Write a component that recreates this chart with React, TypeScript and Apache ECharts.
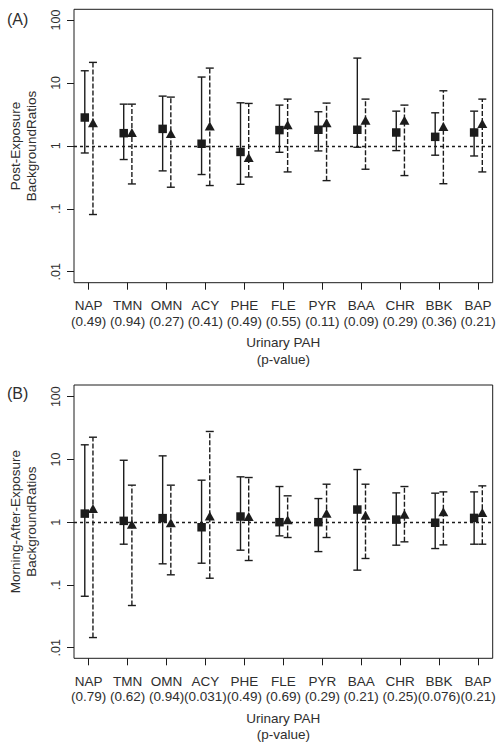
import React, { useEffect, useRef } from "react";
import * as echarts from "echarts";

const categories = ["NAP", "TMN", "OMN", "ACY", "PHE", "FLE", "PYR", "BAA", "CHR", "BBK", "BAP"];
const pValuesA = ["0.49", "0.94", "0.27", "0.41", "0.49", "0.55", "0.11", "0.09", "0.29", "0.36", "0.21"];
const pValuesB = ["0.79", "0.62", "0.94", "0.031", "0.49", "0.69", "0.29", "0.21", "0.25", "0.076", "0.21"];

// Panel A: squares (solid bars)
const aSqEst = [2.82, 1.59, 1.86, 1.08, 0.8, 1.78, 1.8, 1.8, 1.63, 1.39, 1.63];
const aSqLow = [0.77, 0.606, 0.4, 0.35, 0.245, 0.79, 0.83, 0.95, 0.84, 0.71, 0.69];
const aSqHigh = [15.6, 4.6, 6.17, 12.4, 4.83, 4.44, 3.48, 24.8, 3.56, 3.35, 3.56];
// Panel A: triangles (dashed bars)
const aTrEst = [2.32, 1.63, 1.57, 2.06, 0.65, 2.16, 2.32, 2.56, 2.56, 2.03, 2.27];
const aTrLow = [0.081, 0.248, 0.22, 0.234, 0.32, 0.385, 0.28, 0.425, 0.337, 0.25, 0.385];
const aTrHigh = [21.2, 4.6, 5.95, 17.2, 4.72, 5.53, 4.78, 5.53, 4.44, 7.5, 5.53];

// Panel B: squares (solid bars)
const bSqEst = [1.37, 1.05, 1.16, 0.83, 1.23, 1.0, 1.0, 1.59, 1.1, 0.98, 1.17];
const bSqLow = [0.066, 0.446, 0.217, 0.222, 0.358, 0.605, 0.34, 0.172, 0.43, 0.38, 0.446];
const bSqHigh = [17.1, 9.7, 11.4, 4.67, 5.28, 3.7, 2.38, 6.9, 2.93, 2.9, 3.04];
// Panel B: triangles (dashed bars)
const bTrEst = [1.65, 0.93, 0.98, 1.26, 1.23, 1.09, 1.39, 1.29, 1.34, 1.46, 1.43];
const bTrLow = [0.0145, 0.047, 0.145, 0.128, 0.245, 0.57, 0.57, 0.264, 0.486, 0.435, 0.446];
const bTrHigh = [22.6, 3.89, 3.89, 27.9, 5.15, 2.63, 4.03, 4.03, 3.7, 3.04, 3.79];

const yTicks = [0.01, 0.1, 1, 10, 100];
const yTickLabels = [".01", ".1", "1", "10", "100"];
const xTicks = categories.map((_, i) => i + 1);

const FONT = "'Liberation Sans', Arial, sans-serif";
const INK = "#1c1c1c";
const TEXT = "#2e2e2e";
const SQ_OFF = -0.1;
const TR_OFF = 0.11;

function errorSeries(idx: number, low: number[], high: number[], offset: number, dashed: boolean) {
  return {
    type: "custom",
    xAxisIndex: idx,
    yAxisIndex: idx,
    z: 3,
    silent: true,
    encode: { x: 0, y: [1, 2] },
    data: low.map((l, i) => [i + 1, l, high[i]]),
    renderItem: (_params: any, api: any) => {
      const x = api.value(0) + offset;
      const lo = api.coord([x, api.value(1)]);
      const hi = api.coord([x, api.value(2)]);
      const hw = 4;
      const st = { stroke: INK, lineWidth: 1.4 };
      return {
        type: "group",
        children: [
          {
            type: "line",
            shape: { x1: lo[0], y1: lo[1], x2: hi[0], y2: hi[1] },
            style: dashed ? { ...st, lineDash: [5, 2] } : st,
          },
          { type: "line", shape: { x1: lo[0] - hw, y1: lo[1], x2: lo[0] + hw, y2: lo[1] }, style: st },
          { type: "line", shape: { x1: hi[0] - hw, y1: hi[1], x2: hi[0] + hw, y2: hi[1] }, style: st },
        ],
      };
    },
  };
}

function markerSeries(idx: number, est: number[], offset: number, symbol: string, size: any, withRef: boolean) {
  const s: any = {
    type: "scatter",
    xAxisIndex: idx,
    yAxisIndex: idx,
    symbol,
    symbolSize: size,
    z: 5,
    silent: true,
    itemStyle: { color: INK, opacity: 1 },
    data: est.map((v, i) => [i + 1 + offset, v]),
  };
  if (withRef) {
    s.markLine = {
      silent: true,
      symbol: "none",
      z: 2,
      label: { show: false },
      lineStyle: { color: INK, width: 1.4, type: [3, 3] },
      data: [{ yAxis: 1 }],
    };
  }
  return s;
}

function xAxisFor(idx: number, pvals: string[]) {
  return {
    type: "value",
    gridIndex: idx,
    min: 0.623,
    max: 11.377,
    axisLine: { show: false },
    splitLine: { show: false },
    axisTick: { show: true, length: 7, customValues: xTicks, lineStyle: { color: INK, width: 1 } },
    axisLabel: {
      customValues: xTicks,
      margin: 15,
      fontSize: 13.5,
      lineHeight: 15.8,
      color: TEXT,
      fontFamily: FONT,
      formatter: (v: number) => `${categories[Math.round(v) - 1]}\n(${pvals[Math.round(v) - 1]})`,
    },
    name: "Urinary PAH\n(p-value)",
    nameLocation: "middle",
    nameGap: 51.5,
    nameTextStyle: { fontSize: 13.5, lineHeight: 16.6, color: TEXT, fontFamily: FONT },
  };
}

function yAxisFor(idx: number, min: number, max: number, name: string, nameGap: number) {
  return {
    type: "log",
    logBase: 10,
    gridIndex: idx,
    min,
    max,
    axisLine: { show: false },
    splitLine: { show: false },
    axisTick: { show: true, length: 7, customValues: yTicks, lineStyle: { color: INK, width: 1 } },
    axisLabel: {
      customValues: yTicks,
      rotate: 90,
      margin: 12,
      fontSize: 12.5,
      color: TEXT,
      fontFamily: FONT,
      formatter: (v: number) => {
        const k = yTicks.findIndex((t) => Math.abs(Math.log10(t) - Math.log10(v)) < 1e-6);
        return k >= 0 ? yTickLabels[k] : "";
      },
    },
    name,
    nameLocation: "middle",
    nameRotate: 90,
    nameGap,
    nameTextStyle: { fontSize: 13.5, lineHeight: 15.5, color: TEXT, fontFamily: FONT },
  };
}

export default function App() {
  const ref = useRef<HTMLDivElement>(null);
  useEffect(() => {
    if (!ref.current) return;
    const chart = echarts.init(ref.current, undefined, { renderer: "svg" });
    const option: any = {
      animation: false,
      backgroundColor: "#ffffff",
      grid: [
        { left: 73.3, top: 9.3, width: 419.4, height: 273.4, show: true, borderColor: INK, borderWidth: 1, backgroundColor: "transparent" },
        { left: 73.3, top: 385, width: 419.4, height: 273.3, show: true, borderColor: INK, borderWidth: 1, backgroundColor: "transparent" },
      ],
      xAxis: [xAxisFor(0, pValuesA), xAxisFor(1, pValuesB)],
      yAxis: [
        yAxisFor(0, Math.pow(10, -2.175), Math.pow(10, 2.17), "Post-Exposure\nBackgroundRatios", 35),
        yAxisFor(1, Math.pow(10, -2.169), Math.pow(10, 2.186), "Morning-After-Exposure\nBackgroundRatios", 35),
      ],
      graphic: [
        { type: "text", left: 7, top: 11, style: { text: "(A)", fontSize: 16, fontFamily: FONT, fill: TEXT } },
        { type: "text", left: 7, top: 385, style: { text: "(B)", fontSize: 16, fontFamily: FONT, fill: TEXT } },
      ],
      series: [
        errorSeries(0, aSqLow, aSqHigh, SQ_OFF, false),
        errorSeries(0, aTrLow, aTrHigh, TR_OFF, true),
        markerSeries(0, aSqEst, SQ_OFF, "rect", 8.5, true),
        markerSeries(0, aTrEst, TR_OFF, "triangle", [10, 9], false),
        errorSeries(1, bSqLow, bSqHigh, SQ_OFF, false),
        errorSeries(1, bTrLow, bTrHigh, TR_OFF, true),
        markerSeries(1, bSqEst, SQ_OFF, "rect", 8.5, true),
        markerSeries(1, bTrEst, TR_OFF, "triangle", [10, 9], false),
      ],
    };
    chart.setOption(option);
    return () => chart.dispose();
  }, []);
  return (
    <div
      ref={ref}
      style={{ position: "absolute", left: 0, top: 0, width: 504, height: 749, background: "#fff" }}
    />
  );
}
